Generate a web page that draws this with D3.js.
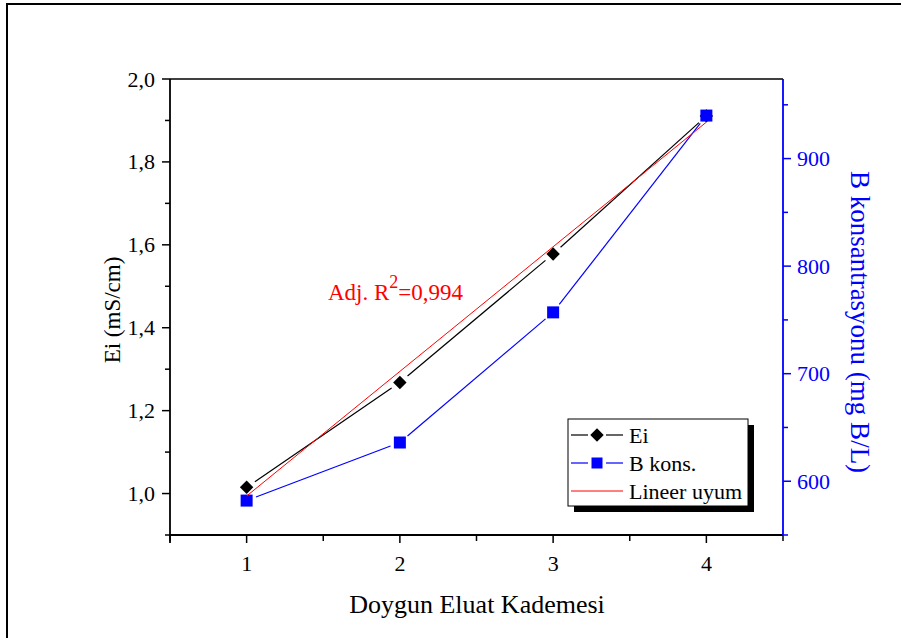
<!DOCTYPE html>
<html>
<head>
<meta charset="utf-8">
<script src="https://cdn.jsdelivr.net/npm/d3@7"></script>
<style>
  html, body { margin: 0; padding: 0; background: #fff; }
  svg { display: block; }
  text { font-family: "Liberation Serif", "Times New Roman", serif; }
</style>
</head>
<body>
<svg id="chart" width="901" height="638"></svg>
<script>
// Saturation stage (x) and measured values
const stages = [1, 2, 3, 4];
const eiValues = [1.015, 1.268, 1.578, 1.911];          // Ei (mS/cm), left axis
const boronValues = [582, 636, 757, 940];               // B konsantrasyonu (mg B/L), right axis
// Linear fit of Ei, evaluated at the ends of the stage range
const fitX = [1, 4];
const fitY = [0.994, 1.896];
const fitLabel = "0,994";

const xTicks = [1, 2, 3, 4];
const xMinorTicks = [0.5, 1.5, 2.5, 3.5, 4.5];
const yLeftTicks = [1.0, 1.2, 1.4, 1.6, 1.8, 2.0];
const yLeftMinor = [0.9, 1.1, 1.3, 1.5, 1.7, 1.9];
const yRightTicks = [600, 700, 800, 900];
const yRightMinor = [550, 650, 750, 850, 950];

const legendItems = [
  { label: "Ei", color: "#000", symbol: "diamond" },
  { label: "B kons.", color: "#0000ff", symbol: "square" },
  { label: "Lineer uyum", color: "#ff0000", symbol: null }
];

const svg = d3.select("#chart");

const pLeft = 170, pRight = 783, pTop = 79, pBottom = 535;
const x = d3.scaleLinear().domain([0.5, 4.5]).range([pLeft, pRight]);
const yL = d3.scaleLinear().domain([0.9, 2.0]).range([pBottom, pTop]);
const yR = d3.scaleLinear().domain([550, 974]).range([pBottom, pTop]);

const fmt = d => d3.format(".1f")(d).replace(".", ",");

function label(g, px, py, str, opts) {
  return g.append("text")
    .attr("transform", `translate(${px},${py})` + (opts.rotate ? ` rotate(${opts.rotate})` : ""))
    .attr("text-anchor", opts.anchor || "start")
    .attr("font-size", opts.size)
    .attr("fill", opts.color || "#000")
    .text(str);
}

// Outer frame
svg.append("rect").attr("x", 7).attr("y", 4).attr("width", 910).attr("height", 650)
  .attr("fill", "none").attr("stroke", "#000").attr("stroke-width", 2);

// Top edge of the plot box
svg.append("line").attr("x1", pLeft).attr("x2", pRight).attr("y1", pTop).attr("y2", pTop)
  .attr("stroke", "#000").attr("stroke-width", 1.6);

// Bottom axis
const gx = svg.append("g");
gx.selectAll("line.maj").data(xTicks).join("line")
  .attr("x1", d => x(d)).attr("x2", d => x(d)).attr("y1", pBottom).attr("y2", pBottom + 8)
  .attr("stroke", "#000").attr("stroke-width", 1.5);
gx.selectAll("line.min").data(xMinorTicks).join("line")
  .attr("x1", d => x(d)).attr("x2", d => x(d)).attr("y1", pBottom).attr("y2", pBottom + 6)
  .attr("stroke", "#000").attr("stroke-width", 1.5);
gx.append("line").attr("x1", pLeft - 1).attr("x2", pRight).attr("y1", pBottom).attr("y2", pBottom)
  .attr("stroke", "#000").attr("stroke-width", 1.8);
xTicks.forEach(d => label(gx, x(d), 571, String(d), { anchor: "middle", size: 22 }));

// Left axis
const gyl = svg.append("g");
gyl.selectAll("line.maj").data(yLeftTicks).join("line")
  .attr("x1", pLeft - 8).attr("x2", pLeft).attr("y1", d => yL(d)).attr("y2", d => yL(d))
  .attr("stroke", "#000").attr("stroke-width", 1.5);
gyl.selectAll("line.min").data(yLeftMinor).join("line")
  .attr("x1", pLeft - 5).attr("x2", pLeft).attr("y1", d => yL(d)).attr("y2", d => yL(d))
  .attr("stroke", "#000").attr("stroke-width", 1.5);
gyl.append("line").attr("x1", pLeft).attr("x2", pLeft).attr("y1", pTop).attr("y2", pBottom + 8)
  .attr("stroke", "#000").attr("stroke-width", 1.8);
yLeftTicks.forEach(d => label(gyl, 155, yL(d) + 7.5, fmt(d), { anchor: "end", size: 22 }));

// Right axis (blue)
const blue = "#0000ff";
const gyr = svg.append("g");
gyr.selectAll("line.maj").data(yRightTicks).join("line")
  .attr("x1", pRight).attr("x2", pRight + 8).attr("y1", d => yR(d)).attr("y2", d => yR(d))
  .attr("stroke", blue).attr("stroke-width", 1.5);
gyr.selectAll("line.min").data(yRightMinor).join("line")
  .attr("x1", pRight).attr("x2", pRight + 5).attr("y1", d => yR(d)).attr("y2", d => yR(d))
  .attr("stroke", blue).attr("stroke-width", 1.5);
gyr.append("line").attr("x1", pRight).attr("x2", pRight).attr("y1", pTop).attr("y2", pBottom)
  .attr("stroke", blue).attr("stroke-width", 1.8);
yRightTicks.forEach(d => label(gyr, 797, yR(d) + 7.5, String(d), { size: 22, color: blue }));

// Axis titles
label(svg, 477, 613, "Doygun Eluat Kademesi", { anchor: "middle", size: 26 });
label(svg, 120, 310, "Ei (mS/cm)", { anchor: "middle", size: 23, rotate: -90 });
label(svg, 851, 322, "B konsantrasyonu (mg B/L)", { anchor: "middle", size: 27, rotate: 90, color: blue });

// Connecting lines with a gap around each symbol
function gappedSegments(pts, gap) {
  const segs = [];
  for (let i = 0; i < pts.length - 1; i++) {
    const [x1, y1] = pts[i], [x2, y2] = pts[i + 1];
    const len = Math.hypot(x2 - x1, y2 - y1);
    const ux = (x2 - x1) / len, uy = (y2 - y1) / len;
    segs.push([x1 + ux * gap, y1 + uy * gap, x2 - ux * gap, y2 - uy * gap]);
  }
  return segs;
}

const eiPts = stages.map((s, i) => [x(s), yL(eiValues[i])]);
const bPts = stages.map((s, i) => [x(s), yR(boronValues[i])]);

const plot = svg.append("g");
plot.selectAll("line.ei").data(gappedSegments(eiPts, 10)).join("line")
  .attr("x1", d => d[0]).attr("y1", d => d[1]).attr("x2", d => d[2]).attr("y2", d => d[3])
  .attr("stroke", "#000").attr("stroke-width", 1.2);
plot.selectAll("line.b").data(gappedSegments(bPts, 10)).join("line")
  .attr("x1", d => d[0]).attr("y1", d => d[1]).attr("x2", d => d[2]).attr("y2", d => d[3])
  .attr("stroke", blue).attr("stroke-width", 1.2);

const diamond = d3.symbol().type(d3.symbolDiamond2).size(115);
plot.selectAll("path.dia").data(eiPts).join("path")
  .attr("transform", d => `translate(${d[0]},${d[1]})`)
  .attr("d", diamond).attr("fill", "#000");
plot.selectAll("rect.sq").data(bPts).join("rect")
  .attr("x", d => d[0] - 6).attr("y", d => d[1] - 6)
  .attr("width", 12).attr("height", 12).attr("fill", blue);

// Linear fit
plot.append("line")
  .attr("x1", x(fitX[0])).attr("y1", yL(fitY[0]))
  .attr("x2", x(fitX[1])).attr("y2", yL(fitY[1]))
  .attr("stroke", "#ff0000").attr("stroke-width", 1);

// Fit annotation
const ann = svg.append("text")
  .attr("transform", "translate(328,300)")
  .attr("font-size", 23).attr("fill", "#ff0000");
ann.append("tspan").text("Adj. R");
ann.append("tspan").attr("font-size", 18).attr("dy", -12).text("2");
ann.append("tspan").attr("dy", 12).text("=" + fitLabel);

// Legend
const lg = svg.append("g");
const lx = 568, ly = 419, lw = 180, lh = 87;
lg.append("rect").attr("x", lx + 6).attr("y", ly + 6).attr("width", lw).attr("height", lh).attr("fill", "#000");
lg.append("rect").attr("x", lx).attr("y", ly).attr("width", lw).attr("height", lh)
  .attr("fill", "#fff").attr("stroke", "#000").attr("stroke-width", 1);
legendItems.forEach((it, i) => {
  const cy = ly + 16 + i * 28;
  const sx0 = lx + 3, sx1 = lx + 55, mid = (sx0 + sx1) / 2;
  if (it.symbol) {
    lg.append("line").attr("x1", sx0).attr("x2", mid - 9).attr("y1", cy).attr("y2", cy)
      .attr("stroke", it.color).attr("stroke-width", 1.2);
    lg.append("line").attr("x1", mid + 9).attr("x2", sx1).attr("y1", cy).attr("y2", cy)
      .attr("stroke", it.color).attr("stroke-width", 1.2);
    if (it.symbol === "diamond") {
      lg.append("path").attr("transform", `translate(${mid},${cy})`).attr("d", diamond).attr("fill", it.color);
    } else {
      lg.append("rect").attr("x", mid - 5.5).attr("y", cy - 5.5).attr("width", 11).attr("height", 11).attr("fill", it.color);
    }
  } else {
    lg.append("line").attr("x1", sx0).attr("x2", sx1).attr("y1", cy).attr("y2", cy)
      .attr("stroke", it.color).attr("stroke-width", 1);
  }
  label(lg, lx + 61, cy + 7.5, it.label, { size: 22 });
});
</script>
</body>
</html>
